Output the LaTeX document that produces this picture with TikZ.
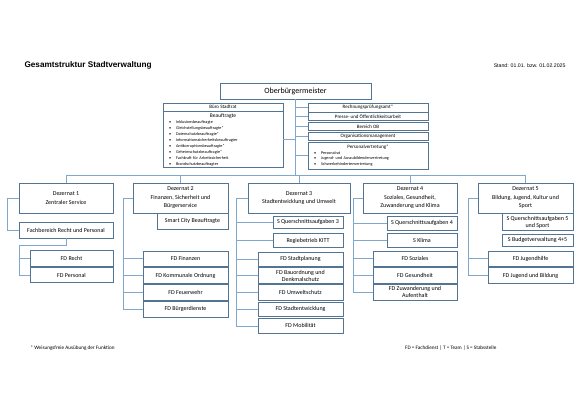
\documentclass[tikz,border=0pt]{standalone}
\usepackage{fontspec}
\setmainfont{Carlito}
\newfontfamily\arialfont{Liberation Sans}
\usetikzlibrary{positioning}

\definecolor{boxline}{RGB}{84,116,148}
\definecolor{linkblue}{RGB}{128,168,205}
\newcommand{\itm}[1]{\hspace*{2pt}\makebox[7pt][l]{\textbullet}#1}

\begin{document}
\begin{tikzpicture}[
  x=1pt, y=-1pt,
  every node/.style={font=\fontsize{6}{8.5}\selectfont},
  box/.style={draw=boxline, fill=white, line width=0.45pt, align=center, inner sep=1pt},
  dez/.style={box, minimum width=94pt, minimum height=30pt},
  sub/.style={box, minimum height=15.5pt},
  staff/.style={box, minimum width=120pt, minimum height=8.5pt, font=\fontsize{5}{6}\selectfont},
  link/.style={draw=linkblue, line width=0.55pt},
]
\useasboundingbox (0,0) rectangle (585,414);

% header
\node[anchor=west, font=\arialfont\bfseries\fontsize{8.2}{10}\selectfont] (title) at (21,65) {Gesamtstruktur Stadtverwaltung};
\node[anchor=east, font=\arialfont\fontsize{5.2}{6}\selectfont] (stand) at (569,66) {Stand: 01.01. bzw. 01.02.2025};

% Leitung
\node[box, minimum width=151pt, minimum height=16pt, font=\fontsize{8}{9}\selectfont] (ob) at (295.5,91) {Oberbürgermeister};

\node[staff] (buero) at (223,107) {Büro Stadtrat};
\node[box, below=0pt of buero, minimum width=120pt, minimum height=56pt, text width=112pt,
      inner sep=1pt, inner xsep=4pt, align=left, font=\fontsize{4.2}{6}\selectfont] (beauf) {%
  \makebox[112pt][c]{\fontsize{5.5}{7}\selectfont Beauftragte}\\
  \itm{Inklusionsbeauftragte}\\
  \itm{Gleichstellungsbeauftragte*}\\
  \itm{Datenschutzbeauftragte*}\\
  \itm{Informationssicherheitsbeauftragter}\\
  \itm{Antikorruptionsbeauftragte*}\\
  \itm{Geheimschutzbeauftragte*}\\
  \itm{Fachkraft für Arbeitssicherheit}\\
  \itm{Brandschutzbeauftragter}};

\node[staff] (rpa) at (368,107.5) {Rechnungsprüfungsamt*};
\node[staff, below=0pt of rpa] (pres) {Presse- und Öffentlichkeitsarbeit};
\node[staff, below=1pt of pres] (bob) {Bereich OB};
\node[staff, below=1pt of bob] (orga) {Organisationsmanagement};
\node[box, below=1pt of orga, minimum width=120pt, minimum height=27pt, text width=112pt,
      inner sep=1pt, inner xsep=4pt, align=left, font=\fontsize{4.2}{5.5}\selectfont] (pv) {%
  \makebox[112pt][c]{\fontsize{5}{7}\selectfont Personalvertretung*}\\
  \itm{Personalrat}\\
  \itm{Jugend- und Auszubildendenvertretung}\\
  \itm{Schwerbehindertenvertretung}};

% Dezernate
\node[dez] (d1) at (66,198) {Dezernat 1\\Zentraler Service};
\node[dez, minimum width=95pt] (d2) at (180.5,198) {Dezernat 2\\Finanzen, Sicherheit und\\Bürgerservice};
\node[dez, minimum width=102pt] (d3) at (299,198) {Dezernat 3\\Stadtentwicklung und Umwelt};
\node[dez] (d4) at (410,198) {Dezernat 4\\Soziales, Gesundheit,\\Zuwanderung und Klima};
\node[dez, minimum width=95pt] (d5) at (525.5,198) {Dezernat 5\\Bildung, Jugend, Kultur und\\Sport};

% Dezernat 1
\node[sub, minimum width=94pt, minimum height=16pt] (fbrp) at (66,230) {Fachbereich Recht und Personal};
\node[sub, minimum width=83pt] (fdre) at (71.5,258) {FD Recht};
\node[sub, minimum width=83pt, below=1pt of fdre] (fdpe) {FD Personal};

% Dezernat 2
\node[sub, minimum width=71pt, minimum height=16pt, anchor=north east] (smart) at (d2.south east) {Smart City Beauftragte};
\node[sub, minimum width=85pt] (fdfi) at (185.5,258.5) {FD Finanzen};
\node[sub, minimum width=85pt, below=1pt of fdfi] (fdko) {FD Kommunale Ordnung};
\node[sub, minimum width=85pt, below=1pt of fdko] (fdfw) {FD Feuerwehr};
\node[sub, minimum width=85pt, below=1pt of fdfw] (fdbd) {FD Bürgerdienste};

% Dezernat 3
\node[sub, minimum width=70pt, minimum height=12pt] (sqa3) at (308,222) {S Querschnittsaufgaben 3};
\node[sub, minimum width=70pt, minimum height=14pt, below=5pt of sqa3] (kitt) {Regiebetrieb KITT};
\node[sub, minimum width=85pt, minimum height=14.5pt] (fdsp) at (300.5,259) {FD Stadtplanung};
\node[sub, minimum width=85pt, below=1pt of fdsp, font=\fontsize{6}{7}\selectfont] (fdbo) {FD Bauordnung und\\Denkmalschutz};
\node[sub, minimum width=85pt, below=1pt of fdbo] (fdus) {FD Umweltschutz};
\node[sub, minimum width=85pt, minimum height=14.5pt, below=1.5pt of fdus] (fdse) {FD Stadtentwicklung};
\node[sub, minimum width=85pt, minimum height=14.5pt, below=1.5pt of fdse] (fdmo) {FD Mobilität};

% Dezernat 4
\node[sub, minimum width=70pt, minimum height=14pt] (sqa4) at (422,223) {S Querschnittsaufgaben 4};
\node[sub, minimum width=70pt, minimum height=14pt, below=3pt of sqa4] (klima) {S Klima};
\node[sub, minimum width=84pt] (fdso) at (415,258.5) {FD Soziales};
\node[sub, minimum width=84pt, below=1pt of fdso] (fdge) {FD Gesundheit};
\node[sub, minimum width=84pt, below=1pt of fdge, font=\fontsize{6}{7}\selectfont] (fdzu) {FD Zuwanderung und\\Aufenthalt};

% Dezernat 5
\node[sub, minimum width=71pt, minimum height=17pt, anchor=north east, font=\fontsize{6}{7}\selectfont] (sqa5) at (d5.south east) {S Querschnittsaufgaben 5\\und Sport};
\node[sub, minimum width=71pt, minimum height=12pt, below=3pt of sqa5] (budg) {S Budgetverwaltung 4+5};
\node[sub, minimum width=85pt] (fdjh) at (530.5,258.5) {FD Jugendhilfe};
\node[sub, minimum width=85pt, below=1pt of fdjh] (fdjb) {FD Jugend und Bildung};

% footer
\node[anchor=west, font=\fontsize{5.2}{6}\selectfont] (note) at (27,348) {* Weisungsfreie Ausübung der Funktion};
\node[anchor=east, font=\fontsize{5.2}{6}\selectfont] (legend) at (500,348) {FD = Fachdienst | T = Team | S = Stabsstelle};

% connectors
\coordinate (bus) at (296,175);
\coordinate (t1) at (7,0);
\coordinate (t2) at (123,0);
\coordinate (t3) at (236,0);
\coordinate (t4) at (353,0);
\coordinate (t5) at (468,0);
\coordinate (k1) at (19,245);

\draw[link] (ob.south) -- (ob.south |- bus);
\draw[link] (d1.north |- bus) -- (d5.north |- bus);
\foreach \d in {d1,d2,d3,d4,d5}
  \draw[link] (\d.north) -- (\d.north |- bus);
\foreach \s in {rpa,pres,bob,orga,pv}
  \draw[link] (ob.south |- \s.west) -- (\s.west);
\draw[link] (ob.south |- beauf.east) -- (beauf.east);

\draw[link] (t1 |- d1.west) -- (t1 |- fbrp.west);
\foreach \n in {d1,fbrp}
  \draw[link] (t1 |- \n.west) -- (\n.west);
\draw[link] (fbrp.south) |- (k1) -- (k1 |- fdpe.west);
\foreach \n in {fdre,fdpe}
  \draw[link] (k1 |- \n.west) -- (\n.west);

\draw[link] (t2 |- d2.west) -- (t2 |- fdbd.west);
\foreach \n in {d2,fdfi,fdko,fdfw,fdbd}
  \draw[link] (t2 |- \n.west) -- (\n.west);

\draw[link] (t3 |- d3.west) -- (t3 |- fdmo.west);
\foreach \n in {d3,sqa3,kitt,fdsp,fdbo,fdus,fdse,fdmo}
  \draw[link] (t3 |- \n.west) -- (\n.west);

\draw[link] (t4 |- d4.west) -- (t4 |- fdzu.west);
\foreach \n in {d4,sqa4,klima,fdso,fdge,fdzu}
  \draw[link] (t4 |- \n.west) -- (\n.west);

\draw[link] (t5 |- d5.west) -- (t5 |- fdjb.west);
\foreach \n in {d5,fdjh,fdjb}
  \draw[link] (t5 |- \n.west) -- (\n.west);
\end{tikzpicture}
\end{document}
